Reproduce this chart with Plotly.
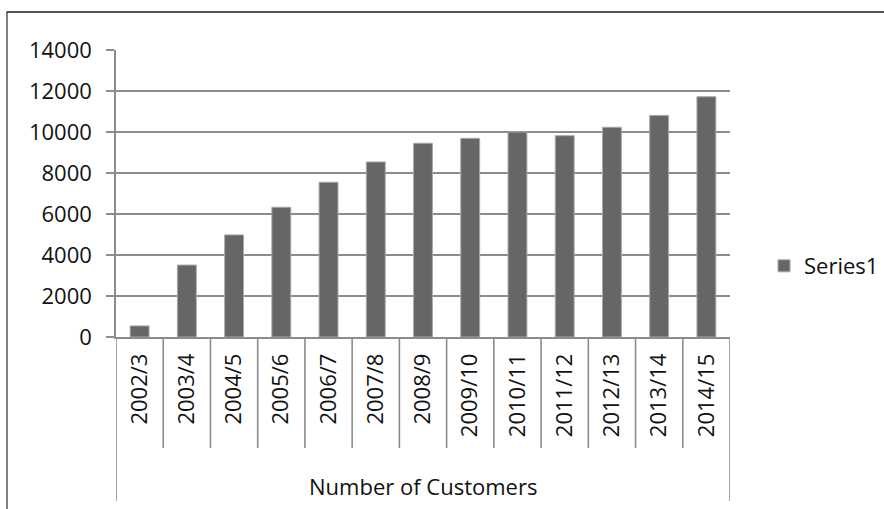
import plotly.graph_objects as go

# Customer counts per financial year
years = ["2002/3", "2003/4", "2004/5", "2005/6", "2006/7", "2007/8", "2008/9",
         "2009/10", "2010/11", "2011/12", "2012/13", "2013/14", "2014/15"]
customers = [540, 3510, 4980, 6330, 7550, 8540, 9450,
             9690, 10000, 9820, 10230, 10810, 11720]
series_name = "Series1"
group_label = "Number of Customers"
y_ticks = [0, 2000, 4000, 6000, 8000, 10000, 12000, 14000]

FONT = "Open Sans"
FS = 22
GRID = "#8c8c8c"
W, H = 884, 509
L, R, T, B = 116, 154, 50, 172
plot_h = H - T - B

def py(px):
    """Convert a pixel row to paper coordinates."""
    return (H - B - px) / plot_h

def pxx(px):
    return (px - L) / (W - L - R)

fig = go.Figure()
fig.add_trace(go.Bar(
    x=years, y=customers, name=series_name,
    marker=dict(color="#666666", line=dict(color="#a8a8a8", width=1)),
    width=0.4, showlegend=True,
))

shapes = []
n = len(years)
# category dividers below the axis
for k in range(n + 1):
    outer = k in (0, n)
    shapes.append(dict(type="line", xref="x", yref="paper",
                       x0=k - 0.5, x1=k - 0.5, y0=0, y1=py(501 if outer else 448),
                       line=dict(color=GRID, width=1.6)))
# chart-area border (top and left)
shapes.append(dict(type="line", xref="paper", yref="paper",
                   x0=pxx(6.5), x1=pxx(W + 2), y0=py(12), y1=py(12),
                   line=dict(color="#1a1a1a", width=1.4)))
shapes.append(dict(type="line", xref="paper", yref="paper",
                   x0=pxx(7), x1=pxx(7), y0=py(12), y1=py(H + 2),
                   line=dict(color="#4a4a4a", width=1.4)))

tfont = dict(family=FONT, size=FS, color="#111111")

fig.update_layout(
    width=W, height=H,
    margin=dict(l=L, r=R, t=T, b=B, pad=0, autoexpand=False),
    paper_bgcolor="white", plot_bgcolor="white",
    font=tfont,
    bargap=0.6,
    xaxis=dict(type="category", range=[-0.5, n - 0.5], tickangle=-90,
               showline=True, linecolor=GRID, linewidth=1.6,
               showgrid=False, ticks="", ticklabelstandoff=6,
               tickfont=tfont, automargin=False, fixedrange=True),
    yaxis=dict(range=[0, 14000], tickvals=y_ticks, ticktext=[str(v) for v in y_ticks],
               showgrid=True, gridcolor=GRID, gridwidth=1.6,
               ticks="outside", ticklen=8, tickcolor=GRID, tickwidth=1.6,
               showline=True, linecolor=GRID, linewidth=1.6,
               zeroline=False, ticklabelstandoff=10,
               tickfont=tfont, automargin=False, fixedrange=True),
    legend=dict(xref="container", yref="container",
                x=764 / W, y=1 - 266 / H, xanchor="left", yanchor="middle",
                font=tfont, bgcolor="rgba(0,0,0,0)", itemwidth=30),
    shapes=shapes,
    annotations=[dict(text=group_label, xref="x", yref="paper",
                      x=(n - 1) / 2, y=py(486), showarrow=False,
                      xanchor="center", yanchor="middle", font=tfont)],
)

fig.write_html("out.html")
